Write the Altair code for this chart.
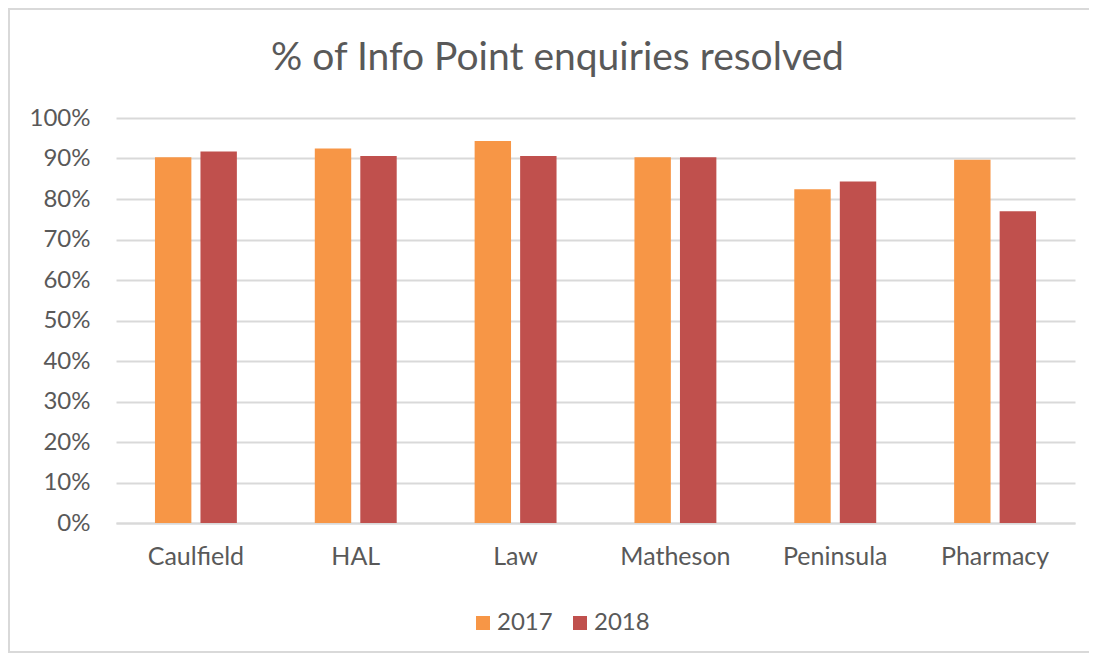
import altair as alt
import pandas as pd

categories = ["Caulfield", "HAL", "Law", "Matheson", "Peninsula", "Pharmacy"]
years = ["2017", "2018"]
values_2017 = [0.903, 0.925, 0.943, 0.903, 0.824, 0.897]
values_2018 = [0.917, 0.906, 0.906, 0.903, 0.843, 0.770]
y_ticks = [0, 0.1, 0.2, 0.3, 0.4, 0.5, 0.6, 0.7, 0.8, 0.9, 1.0]
colors = ["#F79646", "#C0504D"]

rows = []
for c, a, b in zip(categories, values_2017, values_2018):
    rows.append({"Category": c, "Year": "2017", "Value": a})
    rows.append({"Category": c, "Year": "2018", "Value": b})
df = pd.DataFrame(rows)

FONT = "Lato"
TXT = "#595959"

frame = alt.Chart(pd.DataFrame({"k": [0]})).mark_rect(
    fillOpacity=0, stroke="#d9d9d9", strokeWidth=2
).encode(
    x=alt.value(-107), x2=alt.value(975), y=alt.value(-109), y2=alt.value(534)
)

bars = alt.Chart(df).mark_bar().encode(
    x=alt.X("Category:N", sort=categories, title=None,
            scale=alt.Scale(paddingInner=0.4875, paddingOuter=0.24375),
            axis=alt.Axis(labelAngle=0, labelFont=FONT, labelFontSize=25,
                          labelColor=TXT, ticks=False, domainColor="#d9d9d9",
                          domainWidth=2, labelPadding=21, grid=False)),
    xOffset=alt.XOffset("Year:N", sort=years, scale=alt.Scale(paddingInner=0.2)),
    y=alt.Y("Value:Q", title=None, scale=alt.Scale(domain=[0, 1]),
            axis=alt.Axis(format=".0%", values=y_ticks, labelFont=FONT,
                          labelFontSize=24, labelColor=TXT, ticks=False,
                          domain=False, gridColor="#d9d9d9", gridWidth=2,
                          labelPadding=26)),
    color=alt.Color("Year:N", sort=years,
                    scale=alt.Scale(domain=years, range=colors),
                    legend=alt.Legend(orient="none", direction="horizontal",
                                      legendX=355, legendY=493, title=None,
                                      symbolType="square", symbolSize=196,
                                      symbolStrokeWidth=0, labelFont=FONT,
                                      labelFontSize=24, labelColor=TXT,
                                      labelOffset=2, columnPadding=15,
                                      padding=0)),
)

chart = alt.layer(frame, bars).properties(
    width=959, height=405,
    title=alt.TitleParams("% of Info Point enquiries resolved", font=FONT,
                          fontSize=39, fontWeight="normal", color=TXT,
                          anchor="middle", dx=-38, offset=-70, frame="group"),
    autosize=alt.AutoSizeParams(type="none"),
    padding={"left": 108, "top": 110, "right": 14, "bottom": 130},
).configure_view(stroke=None)

chart.save("out.html", embed_options={"renderer": "svg", "actions": False})
